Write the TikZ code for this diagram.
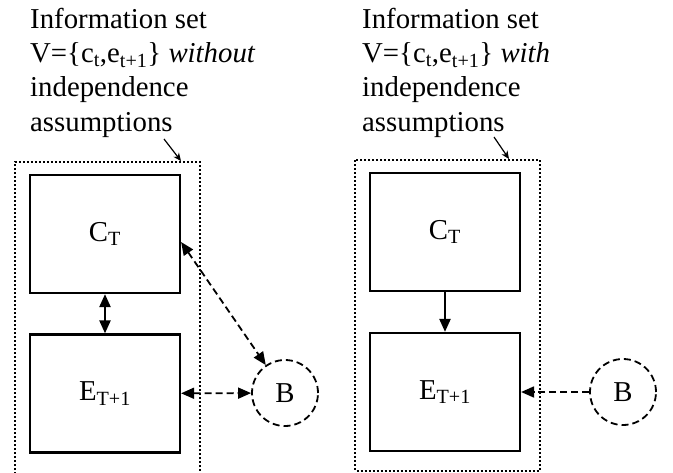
\documentclass[tikz,border=0pt]{standalone}
\usepackage{fontspec}
\setmainfont{Liberation Serif}
\usepackage{tikz}
\usetikzlibrary{arrows.meta,positioning}

\begin{document}
\begin{tikzpicture}[x=1pt,y=-1pt,
  font=\fontsize{28.8pt}{34.3pt}\selectfont,
  >={Triangle[length=13pt,width=11pt]},
  box/.style={draw,line width=2.2pt,minimum width=150pt,minimum height=118pt,inner sep=0pt},
  var/.style={draw,dash pattern=on 7pt off 4pt,circle,line width=1.8pt,minimum size=66pt,inner sep=0pt},
  infoset/.style={draw,dash pattern=on 2pt off 2pt,line width=2pt},
  dep/.style={line width=2.2pt},
  link/.style={dash pattern=on 7pt off 4pt,line width=1.8pt},
  lbl/.style={align=left,anchor=base west,inner sep=0pt}]
  \useasboundingbox (0,0) rectangle (673,472);

  % without independence
  \node[lbl] (txtA) at (30,131) {Information set\\
    V=\{c\textsubscript{t},e\textsubscript{t+1}\} \textit{without}\\
    independence\\ assumptions};
  \coordinate (setA) at (181,161);
  \draw[infoset] (15,474) -- (15,162) -- (200,162) -- (200,474);
  \node[box] (cA) at (105,234) {C\textsubscript{T}};
  \node[box] (eA) at (105,393.5) {E\textsubscript{T+1}};
  \node[var] (bA) at (285,393) {B};
  \draw[dep,<->] (cA) -- (eA);
  \draw[link,<->] (cA.east|-0,242) -- (bA);
  \draw[link,<->] (eA) -- (bA);
  \draw[line width=1.2pt,->,>={Stealth[length=8pt,width=7pt]}] (164,139) -- (setA);

  % with independence
  \node[lbl] (txtB) at (362,131) {Information set\\
    V=\{c\textsubscript{t},e\textsubscript{t+1}\} \textit{with}\\
    independence\\ assumptions};
  \coordinate (setB) at (509,159);
  \draw[infoset] (355,160) rectangle (540,470.5);
  \node[box] (cB) at (445,232) {C\textsubscript{T}};
  \node[box] (eB) at (445,392) {E\textsubscript{T+1}};
  \node[var] (bB) at (623,392) {B};
  \draw[dep,->] (cB) -- (eB);
  \draw[link,->] (bB) -- (eB);
  \draw[line width=1.2pt,->,>={Stealth[length=8pt,width=7pt]}] (494,137) -- (setB);
\end{tikzpicture}
\end{document}
